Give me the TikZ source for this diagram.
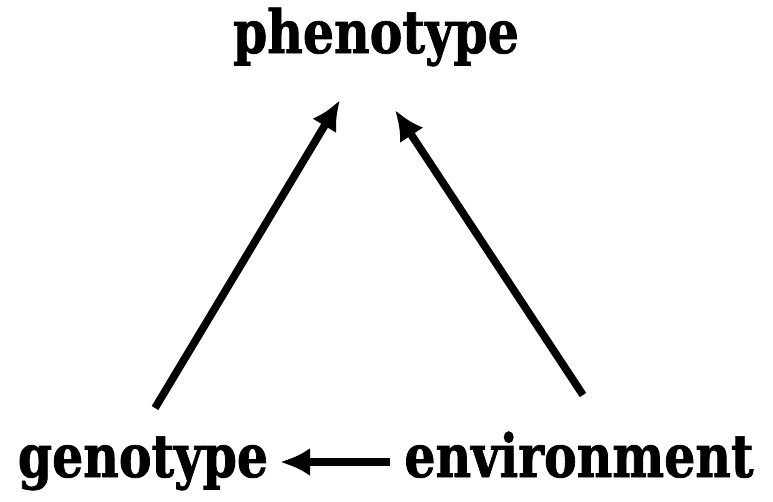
\documentclass[tikz,border=0pt]{standalone}
\usepackage{fontspec}
\newfontfamily\slabfont[FakeStretch=0.82,FakeBold=1.2]{DejaVu Serif}
\usetikzlibrary{arrows.meta}
\begin{document}
\begin{tikzpicture}[
					every node/.style={font=\slabfont\bfseries\fontsize{17pt}{20pt}\selectfont, inner sep=0pt, anchor=base},
					link/.style={-{Latex[length=0.3cm,width=0.28cm]}, line width=2.2pt}
				]
				\useasboundingbox (0,0) rectangle (7.73,-5.01);
				\node (pheno) at (3.76,-0.53) {phenotype};
				\node (geno) at (1.43,-4.77) {genotype};
				\node (env) at (5.79,-4.77) {environment};
				\draw[link] ([shift={(0.12,0.69)}]geno.base) -- ([shift={(-0.36,-0.47)}]pheno.base);
				\draw[link] ([shift={(0.04,0.82)}]env.base) -- ([shift={(0.19,-0.57)}]pheno.base);
				\draw[link] ([shift={(-1.89,0.15)}]env.base) -- ([shift={(1.37,0.15)}]geno.base);
			\end{tikzpicture}
\end{document}
